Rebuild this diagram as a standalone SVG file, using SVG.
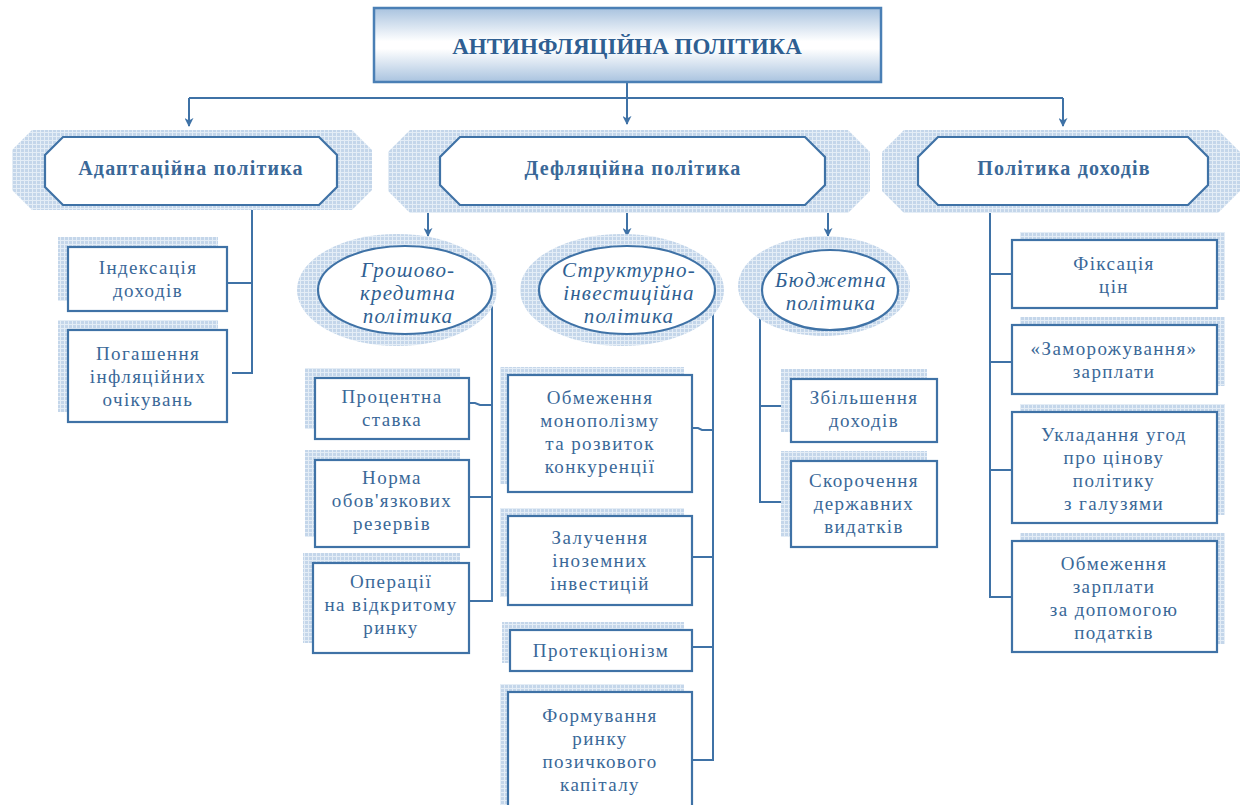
<svg xmlns="http://www.w3.org/2000/svg" width="1248" height="805" viewBox="0 0 1248 805">
<defs>
<pattern id="hatch" width="4" height="4" patternUnits="userSpaceOnUse">
<rect width="4" height="4" fill="#c4d6ea"/>
<rect x="0" y="0" width="1" height="4" fill="#e4edf6"/>
<rect x="0" y="0" width="4" height="1" fill="#e4edf6"/>
</pattern>
<linearGradient id="tg" x1="0" y1="0" x2="0" y2="1">
<stop offset="0" stop-color="#a9c3df"/>
<stop offset="0.45" stop-color="#ffffff"/>
<stop offset="0.55" stop-color="#ffffff"/>
<stop offset="1" stop-color="#a9c3df"/>
</linearGradient>
<marker id="arr" viewBox="0 0 10 10" refX="9" refY="5" markerWidth="9" markerHeight="9" orient="auto" markerUnits="userSpaceOnUse">
<path d="M0,0 L10,5 L0,10 L3,5 Z" fill="#3f72a6"/>
</marker>
<style>
.ln{fill:none;stroke:#3f72a6;stroke-width:2}
.bx{fill:#ffffff;stroke:#3f72a6;stroke-width:2.2}
.sh{fill:url(#hatch);stroke:none}
text{font-family:'Liberation Serif','DejaVu Serif',serif}
.t{font-size:19px;letter-spacing:1.4px;fill:#3a6898;text-anchor:middle}
.h{font-size:20px;letter-spacing:1.2px;font-weight:bold;fill:#3a6898;text-anchor:middle}
.e{font-size:21px;letter-spacing:1.2px;font-style:italic;fill:#2f5f92;text-anchor:middle}
.tt{font-size:23px;font-weight:bold;fill:#2f5f92;text-anchor:middle}
</style>
</defs>
<rect width="1248" height="805" fill="#ffffff"/>

<g id="connectors">
<path class="ln" d="M627,82 V124" marker-end="url(#arr)"/>
<path class="ln" d="M189,98 H1063"/>
<path class="ln" d="M189,98 V126" marker-end="url(#arr)"/>
<path class="ln" d="M1063,98 V126" marker-end="url(#arr)"/>
<path class="ln" d="M428,213 V236" marker-end="url(#arr)"/>
<path class="ln" d="M627,213 V236" marker-end="url(#arr)"/>
<path class="ln" d="M828,213 V236" marker-end="url(#arr)"/>
<path class="ln" d="M252,205 V373 H232 M252,283 H227"/>
<path class="ln" d="M492,298 V601 H469 M492,405 H480 L475,403 H469 M492,497 H469"/>
<path class="ln" d="M713,300 V760 H692 M713,430 H702 L698,428 H692 M713,557 H692 M713,647 H692"/>
<path class="ln" d="M760,300 V502 H791 M760,406 H791"/>
<path class="ln" d="M990,205 V597 H1012 M990,274 H1012 M990,362 H1012 M990,470 H1012"/>
</g>

<g id="title">
<rect x="374" y="8" width="507" height="74" fill="url(#tg)" stroke="#4a7fb5" stroke-width="2.5"/>
<text x="627" y="54" class="tt">АНТИНФЛЯЦІЙНА ПОЛІТИКА</text>
</g>

<g id="adaptive">
<polygon class="sh" points="32,130 352,130 372,150 372,190 352,210 32,210 12,190 12,150"/>
<polygon class="bx" points="63,137 319,137 337,155 337,187 319,205 63,205 45,187 45,155"/>
<text x="191" y="175" class="h">Адаптаційна політика</text>
</g>

<g id="deflation">
<polygon class="sh" points="410,130 848,130 870,152 870,191 848,213 410,213 388,191 388,152"/>
<polygon class="bx" points="460,137 805,137 825,157 825,185 805,205 460,205 440,185 440,157"/>
<text x="633" y="175" class="h">Дефляційна політика</text>
</g>

<g id="income">
<polygon class="sh" points="904,130 1218,130 1240,152 1240,191 1218,213 904,213 882,191 882,152"/>
<polygon class="bx" points="938,137 1188,137 1208,157 1208,185 1188,205 938,205 918,185 918,157"/>
<text x="1064" y="175" class="h">Політика доходів</text>
</g>

<g id="monetary">
<ellipse class="sh" cx="397" cy="290" rx="100" ry="56"/>
<ellipse class="bx" cx="405" cy="290" rx="87" ry="44"/>
<text x="408" y="277" class="e">Грошово-</text>
<text x="408" y="300" class="e">кредитна</text>
<text x="408" y="323" class="e">політика</text>
</g>

<g id="structural">
<ellipse class="sh" cx="622" cy="290" rx="102" ry="56"/>
<ellipse class="bx" cx="627" cy="290" rx="88" ry="44"/>
<text x="629" y="277" class="e">Структурно-</text>
<text x="629" y="300" class="e">інвестиційна</text>
<text x="629" y="323" class="e">політика</text>
</g>

<g id="budget">
<ellipse class="sh" cx="824" cy="286" rx="86" ry="50"/>
<ellipse class="bx" cx="830" cy="290" rx="68" ry="40"/>
<text x="831" y="287" class="e">Бюджетна</text>
<text x="831" y="310" class="e">політика</text>
</g>

<g id="b-index">
<rect class="sh" x="58" y="237" width="160" height="64"/>
<rect class="bx" x="68" y="247" width="159" height="64"/>
<text x="148" y="274" class="t">Індексація</text>
<text x="148" y="297" class="t">доходів</text>
</g>
<g id="b-expect">
<rect class="sh" x="58" y="320" width="160" height="92"/>
<rect class="bx" x="68" y="330" width="159" height="92"/>
<text x="148" y="360" class="t">Погашення</text>
<text x="148" y="383" class="t">інфляційних</text>
<text x="148" y="406" class="t">очікувань</text>
</g>

<g id="b-rate">
<rect class="sh" x="305" y="368" width="155" height="61"/>
<rect class="bx" x="315" y="378" width="154" height="61"/>
<text x="392" y="403" class="t">Процентна</text>
<text x="392" y="426" class="t">ставка</text>
</g>
<g id="b-reserve">
<rect class="sh" x="305" y="450" width="155" height="87"/>
<rect class="bx" x="315" y="460" width="154" height="87"/>
<text x="392" y="484" class="t">Норма</text>
<text x="392" y="507" class="t">обов'язкових</text>
<text x="392" y="530" class="t">резервів</text>
</g>
<g id="b-open">
<rect class="sh" x="303" y="553" width="157" height="90"/>
<rect class="bx" x="313" y="563" width="156" height="90"/>
<text x="391" y="588" class="t">Операції</text>
<text x="391" y="611" class="t">на відкритому</text>
<text x="391" y="634" class="t">ринку</text>
</g>

<g id="b-monop">
<rect class="sh" x="500" y="367" width="184" height="117"/>
<rect class="bx" x="508" y="375" width="184" height="117"/>
<text x="600" y="404" class="t">Обмеження</text>
<text x="600" y="427" class="t">монополізму</text>
<text x="600" y="450" class="t">та розвиток</text>
<text x="600" y="473" class="t">конкуренції</text>
</g>
<g id="b-foreign">
<rect class="sh" x="500" y="508" width="184" height="89"/>
<rect class="bx" x="508" y="516" width="184" height="89"/>
<text x="600" y="544" class="t">Залучення</text>
<text x="600" y="567" class="t">іноземних</text>
<text x="600" y="590" class="t">інвестицій</text>
</g>
<g id="b-protect">
<rect class="sh" x="502" y="622" width="182" height="41"/>
<rect class="bx" x="510" y="630" width="182" height="41"/>
<text x="601" y="657" class="t">Протекціонізм</text>
</g>
<g id="b-capital">
<rect class="sh" x="500" y="684" width="184" height="121"/>
<rect class="bx" x="508" y="692" width="184" height="120"/>
<text x="600" y="722" class="t">Формування</text>
<text x="600" y="745" class="t">ринку</text>
<text x="600" y="768" class="t">позичкового</text>
<text x="600" y="791" class="t">капіталу</text>
</g>

<g id="b-increase">
<rect class="sh" x="781" y="369" width="146" height="63"/>
<rect class="bx" x="791" y="379" width="146" height="63"/>
<text x="864" y="404" class="t">Збільшення</text>
<text x="864" y="427" class="t">доходів</text>
</g>
<g id="b-cut">
<rect class="sh" x="781" y="451" width="146" height="86"/>
<rect class="bx" x="791" y="461" width="146" height="86"/>
<text x="864" y="487" class="t">Скорочення</text>
<text x="864" y="510" class="t">державних</text>
<text x="864" y="533" class="t">видатків</text>
</g>

<g id="b-fix">
<rect class="sh" x="1020" y="232" width="205" height="68"/>
<rect class="bx" x="1012" y="240" width="205" height="68"/>
<text x="1114" y="270" class="t">Фіксація</text>
<text x="1114" y="293" class="t">цін</text>
</g>
<g id="b-freeze">
<rect class="sh" x="1020" y="317" width="205" height="69"/>
<rect class="bx" x="1012" y="325" width="205" height="69"/>
<text x="1114" y="355" class="t">«Заморожування»</text>
<text x="1114" y="378" class="t">зарплати</text>
</g>
<g id="b-agree">
<rect class="sh" x="1020" y="404" width="205" height="111"/>
<rect class="bx" x="1012" y="412" width="205" height="111"/>
<text x="1114" y="441" class="t">Укладання угод</text>
<text x="1114" y="464" class="t">про цінову</text>
<text x="1114" y="487" class="t">політику</text>
<text x="1114" y="510" class="t">з галузями</text>
</g>
<g id="b-tax">
<rect class="sh" x="1020" y="533" width="205" height="111"/>
<rect class="bx" x="1012" y="541" width="205" height="111"/>
<text x="1114" y="570" class="t">Обмеження</text>
<text x="1114" y="593" class="t">зарплати</text>
<text x="1114" y="616" class="t">за допомогою</text>
<text x="1114" y="639" class="t">податків</text>
</g>
</svg>
